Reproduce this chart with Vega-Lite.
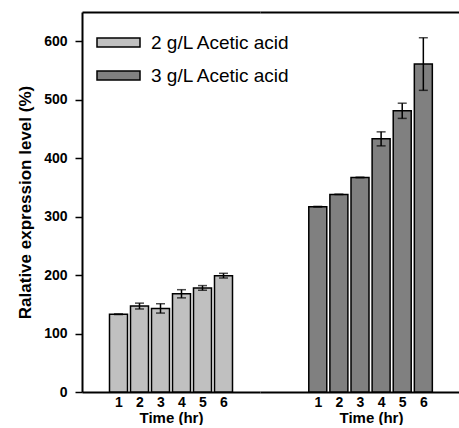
{
  "$schema": "https://vega.github.io/schema/vega-lite/v6.json",
  "padding": {"left": 16, "top": 12, "right": 0, "bottom": 0},
  "background": "white",
  "spacing": 0,
  "config": {
    "view": {"stroke": null},
    "font": "Liberation Sans",
    "axis": {
      "domainColor": "black", "domainWidth": 2, "tickColor": "black", "tickWidth": 1.5,
      "grid": false, "labelColor": "black", "titleColor": "black",
      "labelFont": "Liberation Sans", "titleFont": "Liberation Sans",
      "labelFontWeight": "bold", "labelFontSize": 14, "titleFontWeight": "bold", "labelOverlap": false
    },
    "legend": {
      "orient": "none", "legendX": 14, "legendY": 8,
      "labelFont": "Liberation Sans", "labelFontSize": 19, "labelColor": "black",
      "symbolType": "M-1,-0.21L1,-0.21L1,0.21L-1,0.21Z", "symbolSize": 1849,
      "symbolStrokeColor": "black", "symbolStrokeWidth": 1.5, "symbolOpacity": 1,
      "labelOffset": 10, "rowPadding": -9
    }
  },
  "data": {"values": [
    {"group": "2 g/L Acetic acid", "time": 1, "value": 133, "lo": 132.5, "hi": 133.5},
    {"group": "2 g/L Acetic acid", "time": 2, "value": 147, "lo": 142, "hi": 152},
    {"group": "2 g/L Acetic acid", "time": 3, "value": 143, "lo": 135, "hi": 151},
    {"group": "2 g/L Acetic acid", "time": 4, "value": 168, "lo": 161, "hi": 175},
    {"group": "2 g/L Acetic acid", "time": 5, "value": 178, "lo": 174, "hi": 182},
    {"group": "2 g/L Acetic acid", "time": 6, "value": 199, "lo": 195, "hi": 203},
    {"group": "3 g/L Acetic acid", "time": 1, "value": 317, "lo": 316.5, "hi": 317.5},
    {"group": "3 g/L Acetic acid", "time": 2, "value": 338, "lo": 338, "hi": 338},
    {"group": "3 g/L Acetic acid", "time": 3, "value": 367, "lo": 366.5, "hi": 367.5},
    {"group": "3 g/L Acetic acid", "time": 4, "value": 433, "lo": 421, "hi": 445},
    {"group": "3 g/L Acetic acid", "time": 5, "value": 481, "lo": 468, "hi": 494},
    {"group": "3 g/L Acetic acid", "time": 6, "value": 561, "lo": 516, "hi": 606}
  ]},
  "hconcat": [
    {
      "width": 178, "height": 380,
      "transform": [{"filter": "datum.group == '2 g/L Acetic acid'"}],
      "resolve": {"axis": {"x": "independent"}},
      "layer": [
        {
          "mark": {"type": "bar", "width": 18, "stroke": "black", "strokeWidth": 1.5},
          "encoding": {
            "x": {"field": "time", "type": "quantitative", "scale": {"domain": [-0.5, 7.5], "nice": false, "zero": false},
                  "axis": {"values": [1, 2, 3, 4, 5, 6], "ticks": false, "labelPadding": 3, "title": "Time (hr)", "titleFontSize": 15, "titlePadding": 1}},
            "y": {"field": "value", "type": "quantitative", "scale": {"domain": [0, 650], "nice": false},
                  "axis": {"values": [0, 100, 200, 300, 400, 500, 600], "tickSize": 7, "labelPadding": 8, "title": "Ralative expression level (%)", "titleFontSize": 17, "titlePadding": 9}},
            "color": {"field": "group", "type": "nominal", "scale": {"domain": ["2 g/L Acetic acid", "3 g/L Acetic acid"], "range": ["#c0c0c0", "#808080"]}, "legend": {"title": null}}
          }
        },
        {
          "mark": {"type": "rule", "stroke": "black", "strokeWidth": 1.5},
          "encoding": {
            "x": {"field": "time", "type": "quantitative", "axis": {"orient": "top", "labels": false, "ticks": false, "title": null, "grid": false}},
            "y": {"field": "lo", "type": "quantitative"}, "y2": {"field": "hi"}}
        },
        {
          "mark": {"type": "tick", "color": "black", "size": 9, "thickness": 1.5, "orient": "horizontal"},
          "encoding": {"x": {"field": "time", "type": "quantitative", "axis": null}, "y": {"field": "lo", "type": "quantitative"}}
        },
        {
          "mark": {"type": "tick", "color": "black", "size": 9, "thickness": 1.5, "orient": "horizontal"},
          "encoding": {"x": {"field": "time", "type": "quantitative", "axis": null}, "y": {"field": "hi", "type": "quantitative"}}
        }
      ]
    },
    {
      "width": 200, "height": 380,
      "transform": [{"filter": "datum.group == '3 g/L Acetic acid'"}],
      "resolve": {"axis": {"x": "independent"}},
      "layer": [
        {
          "mark": {"type": "bar", "width": 18, "stroke": "black", "strokeWidth": 1.5},
          "encoding": {
            "x": {"field": "time", "type": "quantitative", "scale": {"domain": [-1.5, 7.5], "nice": false, "zero": false},
                  "axis": {"values": [1, 2, 3, 4, 5, 6], "ticks": false, "labelPadding": 3, "title": "Time (hr)", "titleFontSize": 15, "titlePadding": 1, "titleX": 111}},
            "y": {"field": "value", "type": "quantitative", "scale": {"domain": [0, 650], "nice": false}, "axis": null},
            "color": {"field": "group", "type": "nominal", "legend": {"title": null}}
          }
        },
        {
          "mark": {"type": "rule", "stroke": "black", "strokeWidth": 1.5},
          "encoding": {
            "x": {"field": "time", "type": "quantitative", "axis": {"orient": "top", "labels": false, "ticks": false, "title": null, "grid": false}},
            "y": {"field": "lo", "type": "quantitative", "axis": null}, "y2": {"field": "hi"}}
        },
        {
          "mark": {"type": "tick", "color": "black", "size": 9, "thickness": 1.5, "orient": "horizontal"},
          "encoding": {"x": {"field": "time", "type": "quantitative", "axis": null}, "y": {"field": "lo", "type": "quantitative", "axis": null}}
        },
        {
          "mark": {"type": "tick", "color": "black", "size": 9, "thickness": 1.5, "orient": "horizontal"},
          "encoding": {"x": {"field": "time", "type": "quantitative", "axis": null}, "y": {"field": "hi", "type": "quantitative", "axis": null}}
        }
      ]
    }
  ]
}
